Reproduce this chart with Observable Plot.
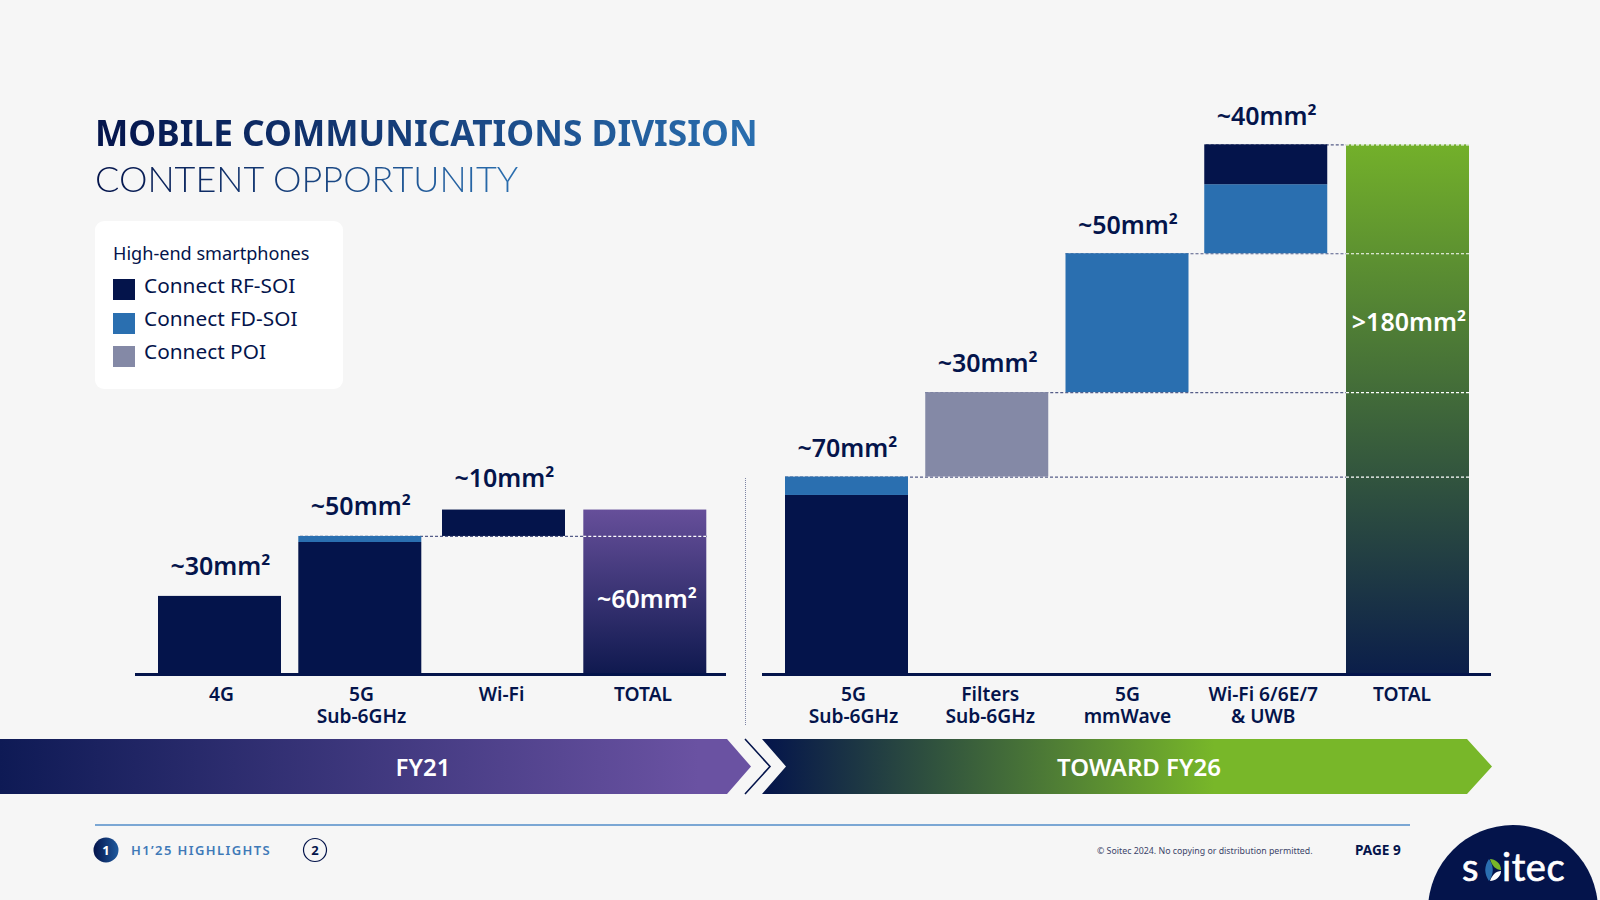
<!DOCTYPE html>
<html><head><meta charset="utf-8">
<script src="https://cdn.jsdelivr.net/npm/d3@7"></script>
<script src="https://cdn.jsdelivr.net/npm/@observablehq/plot@0.6"></script>
<style>
html,body{margin:0;padding:0;background:#f6f6f6;}
#slide{position:relative;width:1600px;height:900px;overflow:hidden;background:#f6f6f6;font-family:"Noto Sans",sans-serif;color:#04144b;}
#slide>*{position:absolute;}
.t1,.t2{left:95px;white-space:nowrap;background:linear-gradient(90deg,#04144b 0%,#2a6fb0 100%);-webkit-background-clip:text;background-clip:text;color:transparent;}
.t1{top:107px;font-size:35.3px;font-weight:700;line-height:50px;width:664px;}
.t2{top:152px;font-family:Lato,"Noto Sans",sans-serif;font-size:36px;font-weight:300;line-height:52px;width:426px;}
#legend{left:95px;top:221px;width:248px;height:168px;background:#fff;border-radius:9px;}
#legend div{position:absolute;white-space:nowrap;line-height:26px;}
#legend i{position:absolute;left:18px;width:22px;height:21px;display:block;}
#divider{left:745px;top:478px;height:247px;border-left:1px dotted #7d84a4;}
svg text{font-family:"Noto Sans",sans-serif;}
</style></head>
<body><div id="slide">
<div class="t1">MOBILE COMMUNICATIONS DIVISION</div>
<div class="t2">CONTENT OPPORTUNITY</div>
<div id="legend"></div>
<div id="divider"></div>
<svg id="deco" width="1600" height="900" style="left:0;top:0">
 <defs>
  <linearGradient id="bannerL" x1="0" x2="1" y1="0" y2="0"><stop offset="0" stop-color="#0e1a55"/><stop offset=".93" stop-color="#6a52a2"/></linearGradient>
  <linearGradient id="bannerR" x1="0" x2="1" y1="0" y2="0"><stop offset="0" stop-color="#04144b"/><stop offset=".62" stop-color="#78b729"/></linearGradient>
  <linearGradient id="dot1" x1="0" x2="1" y1="0" y2="0"><stop offset="0" stop-color="#04144b"/><stop offset="1" stop-color="#1f5a9e"/></linearGradient>
 </defs>
 <polygon points="0,739 727,739 751,766.5 727,794 0,794" fill="url(#bannerL)"/>
 <polyline points="745,739 770,766.5 745,794" fill="none" stroke="#04144b" stroke-width="1.6"/>
 <polygon points="762,739 1467,739 1492,766.5 1467,794 762,794 786,766.5" fill="url(#bannerR)"/>
 <text x="423" y="776" text-anchor="middle" font-size="24" font-weight="600" fill="#fff">FY21</text>
 <text x="1139" y="776" text-anchor="middle" font-size="24" font-weight="600" fill="#fff">TOWARD FY26</text>
 <line x1="95" x2="1410" y1="825" y2="825" stroke="#7ba7d4" stroke-width="2"/>
 <circle cx="106" cy="850" r="12.5" fill="url(#dot1)"/>
 <text x="106" y="855" text-anchor="middle" font-size="13" font-weight="700" fill="#fff">1</text>
 <text x="131" y="855" font-size="13" font-weight="600" letter-spacing="1.4" fill="#3f7ab8">H1’25 HIGHLIGHTS</text>
 <circle cx="315" cy="850" r="11.5" fill="none" stroke="#04144b" stroke-width="1.2"/>
 <text x="315" y="855" text-anchor="middle" font-size="13" font-weight="700" fill="#04144b">2</text>
 <text x="1097" y="854" font-size="8.8" fill="#3b4468">© Soitec 2024. No copying or distribution permitted.</text>
 <text x="1355" y="855" font-size="13.6" font-weight="700" fill="#04144b">PAGE 9</text>
 <circle cx="1513" cy="910" r="85" fill="#04144b"/>
 <text x="1462" y="881" font-size="38" fill="#fff" stroke="#fff" stroke-width=".7" style="font-family:Lato">s</text>
 <text x="1502" y="881" font-size="38" letter-spacing=".6" fill="#fff" stroke="#fff" stroke-width=".7" style="font-family:Lato">itec</text>
 <path d="M1489,859 C1484,866 1484,874 1489,881 C1494,874 1494,866 1489,859Z" fill="#2a6fb0"/>
 <path d="M1490,859 C1495,859 1501,863 1501,870 C1496,870 1492,866 1490,859Z" fill="#78b729"/>
 <path d="M1490,881 C1495,881 1501,877 1501,871 C1496,871 1492,875 1490,881Z" fill="#fff"/>
</svg>
<div id="left" style="left:135px;top:90px"></div>
<div id="right" style="left:762px;top:90px"></div>
</div>
<script>
// Left chart (FY21), estimated mm²
const leftCategories = ["4G", "5G\nSub-6GHz", "Wi-Fi", "TOTAL"];
const leftBase = [0, 0, 50.2, 0];
const leftRF   = [28.4, 48, 9.6, 0];
const leftFD   = [0, 2.2, 0, 0];
const leftPOI  = [0, 0, 0, 0];
const leftTotal = [0, 0, 0, 59.8];
const leftLabels = ["~30mm²", "~50mm²", "~10mm²", "~60mm²"];
// Right chart (toward FY26)
const rightCategories = ["5G\nSub-6GHz", "Filters\nSub-6GHz", "5G\nmmWave", "Wi-Fi 6/6E/7\n& UWB", "TOTAL"];
const rightBase = [0, 71.8, 102.5, 153, 0];
const rightRF   = [65.1, 0, 0, 14.5, 0];
const rightFD   = [6.7, 0, 50.5, 25.1, 0];
const rightPOI  = [0, 30.7, 0, 0, 0];
const rightTotal = [0, 0, 0, 0, 192.6];
const rightLabels = ["~70mm²", "~30mm²", "~50mm²", "~40mm²", ">180mm²"];
const seriesNames = ["Connect RF-SOI", "Connect FD-SOI", "Connect POI"];
const seriesColors = ["#04144b", "#2a6fb0", "#8489a6"];
const fdBelowRf = ["Wi-Fi 6/6E/7\n& UWB"]; // categories whose blue part sits under the navy part

const NAVY = "#04144b", DASH = "#565d88";

// legend
const lg = document.getElementById("legend");
lg.innerHTML = `<div style="left:18px;top:19px;font-size:18.1px">High-end smartphones</div>` +
  seriesNames.map((s, i) => `<i style="top:${58 + i * 33.5}px;background:${seriesColors[i]}"></i><div style="left:49px;top:${51 + i * 33.2}px;font-size:20.8px">${s}</div>`).join("");

function rows(cats, base, rf, fd, poi) {
  const out = [];
  cats.forEach((c, i) => {
    let y = base[i];
    const order = fdBelowRf.includes(c) ? [1, 0, 2] : [0, 1, 2];
    const vals = [rf[i], fd[i], poi[i]];
    order.forEach(k => {
      const v = vals[k];
      if (v > 0) { out.push({cat: c, y1: y, y2: y + v, series: seriesNames[k]}); y += v; }
    });
  });
  return out;
}
function gradientDefs(id, top, bottom) {
  return () => {
    const d = d3.create("svg:defs");
    const g = d.append("linearGradient").attr("id", id).attr("x1", 0).attr("x2", 0).attr("y1", 0).attr("y2", 1);
    g.append("stop").attr("offset", 0).attr("stop-color", top);
    g.append("stop").attr("offset", 1).attr("stop-color", bottom);
    return d.node();
  };
}
function chart({cats, base, rf, fd, poi, total, labels, width, range, padding, grad, levels, tickNudge, barNudge, labelDy, insideDy}) {
  const tops = cats.map((c, i) => base[i] + rf[i] + fd[i] + poi[i]);
  const totalIdx = cats.length - 1;
  const totalCat = cats[totalIdx];
  const allRows = rows(cats, base, rf, fd, poi);
  return Plot.plot({
    width, height: 640,
    marginLeft: 0, marginRight: 0, marginTop: 34, marginBottom: 56,
    style: {background: "transparent", overflow: "visible", fontFamily: '"Noto Sans",sans-serif'},
    x: {type: "band", domain: cats, range, paddingInner: padding, paddingOuter: 0, round: false, axis: null},
    y: {domain: [0, 200], range: [584, 34], axis: null},
    color: {domain: seriesNames, range: seriesColors},
    marks: [
      gradientDefs(grad[0], grad[1], grad[2]),
      Plot.ruleY(levels, {y: "v", x1: "from", x2: () => totalCat, stroke: DASH, strokeWidth: 1.2, strokeDasharray: "3,2"}),
      ...cats.map((c, i) => Plot.barY(allRows.filter(r => r.cat === c), {x: "cat", y1: "y1", y2: "y2", fill: "series", dx: barNudge[i]})),
      Plot.barY([totalCat], {x: d => d, y1: 0, y2: total[totalIdx], fill: `url(#${grad[0]})`, dx: barNudge[totalIdx]}),
      Plot.tickY(levels, {x: () => totalCat, y: "v", stroke: "#fff", strokeWidth: 1.2, strokeDasharray: "3,2", dx: barNudge[totalIdx]}),
      Plot.ruleY([0], {stroke: NAVY, strokeWidth: 3}),
      ...cats.slice(0, -1).map((c, i) => Plot.text([c], {x: d => d, y: tops[i], text: () => labels[i], dy: labelDy[i], dx: 0.5 + barNudge[i], fontSize: 25, fontWeight: 600, fill: NAVY, lineAnchor: "middle"})),
      Plot.text([totalCat], {x: d => d, y: total[totalIdx], text: () => labels[totalIdx], dy: insideDy, dx: 1, fontSize: 25, fontWeight: 600, fill: "#fff", lineAnchor: "middle"}),
      ...cats.map((c, i) => Plot.axisX([c], {tickSize: 0, tickPadding: 11, fontSize: 19.2, fontWeight: 600, lineHeight: 1.15, fill: NAVY, dx: tickNudge[i]}))
    ]
  });
}
document.getElementById("left").append(chart({
  cats: leftCategories, base: leftBase, rf: leftRF, fd: leftFD, poi: leftPOI, total: leftTotal, labels: leftLabels,
  width: 591, range: [23, 572], padding: 0.1338,
  grad: ["gradPurple", "#664f9a", "#0f194f"],
  levels: [{v: 50.2, from: leftCategories[1]}],
  tickNudge: [1.5, -0.5, -2.5, -3], barNudge: [0, -1.7, 0, -0.7], labelDy: [-29, -29, -31], insideDy: 90
}));
document.getElementById("right").append(chart({
  cats: rightCategories, base: rightBase, rf: rightRF, fd: rightFD, poi: rightPOI, total: rightTotal, labels: rightLabels,
  width: 729, range: [23, 707], padding: 0.123,
  grad: ["gradGreen", "#73b02a", "#0b1e4a"],
  levels: [{v: 71.8, from: rightCategories[0]}, {v: 102.5, from: rightCategories[1]}, {v: 153, from: rightCategories[2]}, {v: 192.6, from: rightCategories[3]}],
  tickNudge: [6.5, 3, 0, -4.5, -6], barNudge: [0, 0, 0, -1.5, 0], labelDy: [-28, -29, -28, -28], insideDy: 178
}));
</script>
</body></html>
